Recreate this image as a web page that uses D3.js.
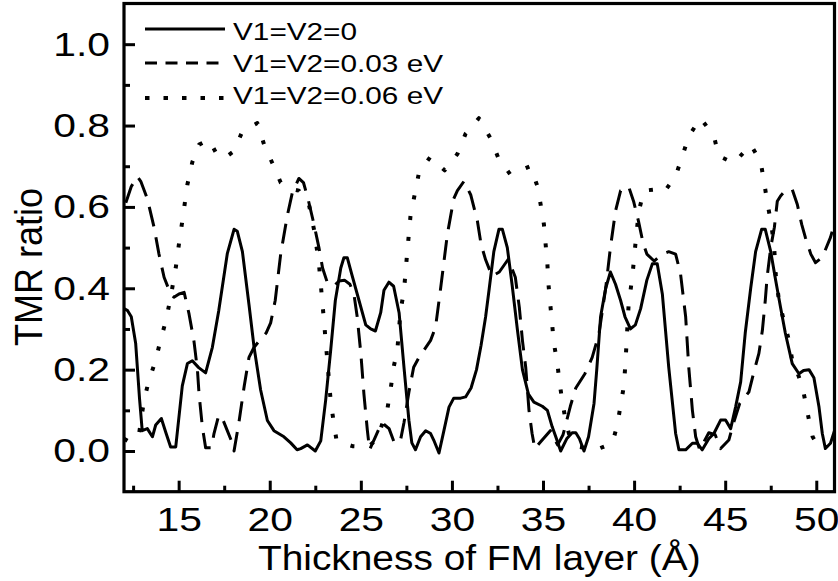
<!DOCTYPE html>
<html>
<head>
<meta charset="utf-8">
<script src="https://cdn.jsdelivr.net/npm/d3@7"></script>
<style>
  body { margin: 0; background: #fff; }
  text { font-family: "Liberation Sans", Arial, sans-serif; fill: #000; }
</style>
</head>
<body>
<div id="chart"></div>
<script>
// V1=V2=0
var thick0 = [12.0, 12.2, 12.4, 12.64, 12.85, 13.0, 13.28, 13.56, 13.74, 14.05, 14.3, 14.56, 14.84, 15.2, 15.48, 15.75, 16.1, 16.48, 16.85, 17.2, 17.67, 18.04, 18.22, 18.5, 18.86, 19.14, 19.5, 19.87, 20.23, 20.78, 21.15, 21.5, 21.7, 22.07, 22.5, 22.8, 23.07, 23.35, 23.6, 23.9, 24.07, 24.26, 24.5, 24.9, 25.27, 25.54, 25.8, 26.09, 26.27, 26.54, 26.8, 27.1, 27.37, 27.64, 27.8, 28.0, 28.28, 28.56, 28.83, 29.0, 29.29, 29.56, 29.84, 30.1, 30.48, 30.75, 31.05, 31.35, 31.6, 31.85, 32.05, 32.3, 32.58, 32.77, 33.04, 33.3, 33.6, 33.87, 34.2, 34.5, 34.96, 35.24, 35.5, 35.7, 35.97, 36.3, 36.6, 36.8, 37.0, 37.25, 37.5, 37.8, 37.95, 38.16, 38.44, 38.7, 38.98, 39.26, 39.5, 39.8, 40.07, 40.36, 40.7, 41.0, 41.27, 41.55, 41.9, 42.28, 42.46, 42.83, 43.2, 43.47, 43.74, 44.1, 44.38, 44.75, 45.02, 45.3, 45.57, 45.85, 46.1, 46.4, 46.67, 47.0, 47.2, 47.5, 47.77, 48.04, 48.3, 48.68, 49.05, 49.3, 49.6, 49.87, 50.15, 50.33, 50.5, 50.78, 51.0];
var tmr0 = [0.35, 0.345, 0.33, 0.265, 0.13, 0.05, 0.055, 0.035, 0.064, 0.08, 0.045, 0.01, 0.01, 0.16, 0.215, 0.222, 0.205, 0.192, 0.255, 0.345, 0.485, 0.545, 0.54, 0.49, 0.36, 0.255, 0.15, 0.075, 0.05, 0.035, 0.02, 0.003, 0.006, 0.015, 0.0, 0.025, 0.125, 0.25, 0.37, 0.45, 0.475, 0.475, 0.435, 0.37, 0.31, 0.30, 0.295, 0.34, 0.395, 0.415, 0.405, 0.34, 0.205, 0.075, 0.02, 0.003, 0.035, 0.05, 0.043, 0.027, -0.005, 0.05, 0.108, 0.13, 0.13, 0.133, 0.155, 0.2, 0.26, 0.33, 0.4, 0.49, 0.545, 0.545, 0.5, 0.41, 0.296, 0.2, 0.14, 0.12, 0.11, 0.1, 0.06, 0.035, 0.0, 0.03, 0.045, 0.045, 0.03, 0.0, 0.035, 0.117, 0.2, 0.33, 0.40, 0.44, 0.41, 0.37, 0.33, 0.30, 0.31, 0.35, 0.42, 0.46, 0.46, 0.386, 0.206, 0.043, 0.003, 0.003, 0.019, 0.019, 0.003, 0.03, 0.043, 0.076, 0.076, 0.055, 0.108, 0.17, 0.29, 0.40, 0.49, 0.545, 0.545, 0.49, 0.42, 0.353, 0.29, 0.215, 0.19, 0.198, 0.2, 0.18, 0.108, 0.043, 0.006, 0.019, 0.05];

// V1=V2=0.03 eV
var thick1 = [12.1, 12.4, 12.73, 12.92, 13.28, 13.65, 13.92, 14.2, 14.56, 14.74, 15.02, 15.3, 15.57, 15.84, 16.03, 16.12, 16.3, 16.48, 16.8, 16.94, 17.2, 17.4, 17.67, 17.95, 18.04, 18.3, 18.6, 18.86, 19.14, 19.5, 19.8, 20.05, 20.3, 20.6, 20.97, 21.24, 21.6, 21.85, 22.1, 22.43, 22.7, 22.9, 23.16, 23.53, 23.8, 24.1, 24.4, 24.62, 24.8, 25.0, 25.17, 25.36, 25.48, 25.8, 26.15, 26.55, 26.85, 27.18, 27.37, 27.64, 27.9, 28.19, 28.83, 29.1, 29.38, 29.75, 30.1, 30.3, 30.66, 31.03, 31.4, 31.6, 31.85, 32.2, 32.6, 33.1, 33.48, 33.7, 33.87, 34.05, 34.23, 34.4, 34.55, 34.87, 35.4, 35.8, 36.1, 36.5, 36.8, 37.3, 37.7, 38.07, 38.44, 38.7, 38.98, 39.26, 39.7, 39.97, 40.24, 40.5, 40.7, 41.1, 41.55, 41.9, 42.28, 42.55, 42.83, 43.0, 43.2, 43.38, 43.6, 44.1, 44.45, 44.75, 45.2, 45.45, 45.8, 46.3, 46.55, 46.85, 47.04, 47.2, 47.3, 47.5, 47.7, 47.86, 48.04, 48.3, 48.68, 48.96, 49.2, 49.4, 49.7, 49.96, 50.33, 50.78, 51.0];
var tmr1 = [0.61, 0.65, 0.675, 0.663, 0.62, 0.55, 0.484, 0.427, 0.386, 0.378, 0.386, 0.39, 0.337, 0.27, 0.2, 0.14, 0.06, 0.008, 0.008, 0.043, 0.088, 0.08, 0.05, 0.019, 0.0, 0.068, 0.16, 0.23, 0.255, 0.275, 0.29, 0.315, 0.37, 0.484, 0.58, 0.635, 0.67, 0.66, 0.62, 0.557, 0.5, 0.45, 0.414, 0.406, 0.418, 0.42, 0.41, 0.386, 0.33, 0.24, 0.14, 0.05, 0.003, 0.035, 0.07, 0.055, 0.019, 0.027, 0.07, 0.145, 0.206, 0.23, 0.272, 0.304, 0.40, 0.533, 0.62, 0.64, 0.663, 0.63, 0.565, 0.508, 0.47, 0.43, 0.44, 0.472, 0.427, 0.353, 0.272, 0.206, 0.1, 0.043, 0.006, 0.023, 0.05, 0.015, 0.04, 0.11, 0.155, 0.19, 0.23, 0.288, 0.40, 0.5, 0.59, 0.64, 0.65, 0.614, 0.565, 0.51, 0.484, 0.467, 0.484, 0.49, 0.484, 0.435, 0.33, 0.206, 0.1, 0.035, 0.003, 0.045, 0.04, 0.006, 0.027, 0.068, 0.117, 0.145, 0.19, 0.24, 0.296, 0.37, 0.427, 0.5, 0.55, 0.614, 0.627, 0.64, 0.643, 0.606, 0.557, 0.525, 0.484, 0.463, 0.476, 0.525, 0.56];

// V1=V2=0.06 eV
var thick2 = [12.0, 12.27, 12.6, 12.82, 13.1, 13.37, 13.74, 14.0, 14.3, 14.56, 14.84, 15.02, 15.2, 15.48, 15.75, 16.12, 16.67, 17.1, 17.5, 18.04, 18.5, 19.32, 19.69, 20.14, 20.6, 21.1, 21.6, 22.15, 22.45, 22.7, 22.8, 22.9, 23.16, 23.35, 23.5, 23.67, 24.54, 25.4, 25.9, 26.09, 26.46, 26.64, 26.8, 27.0, 27.18, 27.37, 27.46, 27.55, 27.73, 28.0, 28.19, 28.8, 29.6, 30.3, 30.75, 31.48, 32.1, 32.55, 33.2, 34.3, 34.7, 34.87, 35.05, 35.14, 35.24, 35.3, 35.4, 35.6, 35.79, 35.9, 36.07, 36.25, 36.5, 37.0, 37.9, 38.8, 39.08, 39.26, 39.44, 39.53, 39.63, 39.7, 39.9, 40.07, 40.26, 40.54, 41.18, 41.63, 42.28, 42.65, 43.0, 43.65, 44.38, 44.65, 45.48, 46.4, 46.94, 47.13, 47.3, 47.5, 47.68, 47.77, 47.95, 48.22, 48.5, 48.68, 49.05, 49.32, 49.6, 49.8, 50.0];
var tmr2 = [0.03, 0.023, 0.028, 0.04, 0.125, 0.174, 0.223, 0.272, 0.32, 0.378, 0.45, 0.51, 0.565, 0.655, 0.71, 0.753, 0.765, 0.729, 0.72, 0.737, 0.786, 0.806, 0.753, 0.708, 0.66, 0.645, 0.64, 0.606, 0.54, 0.46, 0.41, 0.36, 0.223, 0.12, 0.074, 0.025, 0.012, 0.01, 0.03, 0.055, 0.104, 0.153, 0.206, 0.247, 0.345, 0.394, 0.443, 0.49, 0.58, 0.64, 0.684, 0.722, 0.69, 0.73, 0.78, 0.818, 0.77, 0.72, 0.68, 0.70, 0.65, 0.606, 0.557, 0.51, 0.46, 0.41, 0.36, 0.264, 0.215, 0.17, 0.12, 0.072, 0.03, 0.01, 0.003, 0.019, 0.064, 0.113, 0.16, 0.22, 0.304, 0.36, 0.427, 0.508, 0.59, 0.64, 0.643, 0.635, 0.676, 0.725, 0.774, 0.818, 0.774, 0.725, 0.708, 0.753, 0.712, 0.663, 0.614, 0.565, 0.508, 0.435, 0.37, 0.32, 0.272, 0.223, 0.182, 0.14, 0.076, 0.035, 0.02];

var seriesNames = ["V1=V2=0", "V1=V2=0.03 eV", "V1=V2=0.06 eV"];
var xMajor = [15, 20, 25, 30, 35, 40, 45, 50];
var xMinor = [12.5, 17.5, 22.5, 27.5, 32.5, 37.5, 42.5, 47.5];
var yMajor = [0.0, 0.2, 0.4, 0.6, 0.8, 1.0];
var yMinor = [0.1, 0.3, 0.5, 0.7, 0.9];

var width = 838;
var height = 581;
var plotLeft = 124, plotRight = 834.5, plotTop = 3.5, plotBottom = 491.7;

var svg = d3.select("#chart")
  .append("svg")
  .attr("width", width)
  .attr("height", height);

var x_scale = d3.scaleLinear().domain([12, 51]).range([plotLeft, plotRight]);
var y_scale = d3.scaleLinear().domain([-0.1, 1.1]).range([plotBottom, plotTop]);

svg.append("clipPath").attr("id", "clip")
  .append("rect")
  .attr("x", plotLeft).attr("y", plotTop)
  .attr("width", plotRight - plotLeft).attr("height", plotBottom - plotTop);

// axes with inward ticks
var xAxis = d3.axisBottom(x_scale).tickValues(xMajor).tickSizeInner(-11).tickSizeOuter(0).tickPadding(15);
var xAxisMinor = d3.axisBottom(x_scale).tickValues(xMinor).tickSizeInner(-6).tickSizeOuter(0).tickFormat("");
var yAxis = d3.axisLeft(y_scale).tickValues(yMajor).tickSizeInner(-11).tickSizeOuter(0).tickFormat(d3.format(".1f"));
var yAxisMinor = d3.axisLeft(y_scale).tickValues(yMinor).tickSizeInner(-6).tickSizeOuter(0).tickFormat("");

function styleAxis(g) {
  g.select(".domain").remove();
  g.selectAll("line").attr("stroke", "#000").attr("stroke-width", 3);
  g.selectAll("text").attr("font-size", 34).attr("font-family", "Liberation Sans, Arial, sans-serif");
}

var gx = svg.append("g").attr("transform", "translate(0," + plotBottom + ")").call(xAxis).call(styleAxis);
gx.selectAll("text").attr("transform", "scale(1.2,1)");
svg.append("g").attr("transform", "translate(0," + plotBottom + ")").call(xAxisMinor).call(styleAxis);

var gy = svg.append("g").attr("transform", "translate(" + plotLeft + ",0)").call(yAxis).call(styleAxis);
gy.selectAll("text").attr("x", -14 / 1.2).attr("transform", "scale(1.2,1)");
svg.append("g").attr("transform", "translate(" + plotLeft + ",0)").call(yAxisMinor).call(styleAxis);

// frame
svg.append("rect")
  .attr("x", plotLeft).attr("y", plotTop)
  .attr("width", plotRight - plotLeft).attr("height", plotBottom - plotTop)
  .attr("fill", "none").attr("stroke", "#000").attr("stroke-width", 3.2);

// curves (dash patterns are longer in the plot than in the legend)
var plotDashes = [null, "20,11", "4,17"];
var legendDashes = [null, "12,8.5", "4.5,14"];
var widths = [3, 3, 4];
var allX = [thick0, thick1, thick2];
var allY = [tmr0, tmr1, tmr2];

var line = d3.line()
  .x(function(d){ return x_scale(d[0]); })
  .y(function(d){ return y_scale(d[1]); });

var plot = svg.append("g").attr("clip-path", "url(#clip)");
for (var i = 0; i < 3; i++) {
  var pts = allX[i].map(function(v, j){ return [v, allY[i][j]]; });
  plot.append("path")
    .datum(pts)
    .attr("d", line)
    .attr("fill", "none")
    .attr("stroke", "#000")
    .attr("stroke-width", widths[i])
    .attr("stroke-linejoin", "round")
    .attr("stroke-dasharray", plotDashes[i]);
}

// legend
var legendLineY = [29, 63, 98];
var legendTextY = [39.5, 71.5, 103.5];
var legend = svg.append("g");
seriesNames.forEach(function(name, i){
  legend.append("line")
    .attr("x1", 145).attr("x2", 225)
    .attr("y1", legendLineY[i]).attr("y2", legendLineY[i])
    .attr("stroke", "#000")
    .attr("stroke-width", widths[i])
    .attr("stroke-dasharray", legendDashes[i]);
  legend.append("text")
    .attr("transform", "translate(233," + legendTextY[i] + ") scale(1.24,1)")
    .attr("font-size", 24)
    .text(name);
});

// axis titles
svg.append("text")
  .attr("transform", "translate(" + ((plotLeft + plotRight) / 2) + ",570) scale(1.08,1)")
  .attr("text-anchor", "middle")
  .attr("font-size", 36)
  .text("Thickness of FM layer (Å)");

svg.append("text")
  .attr("transform", "translate(42,267) scale(1.08,1) rotate(-90)")
  .attr("text-anchor", "middle")
  .attr("font-size", 36)
  .text("TMR ratio");
</script>
</body>
</html>
